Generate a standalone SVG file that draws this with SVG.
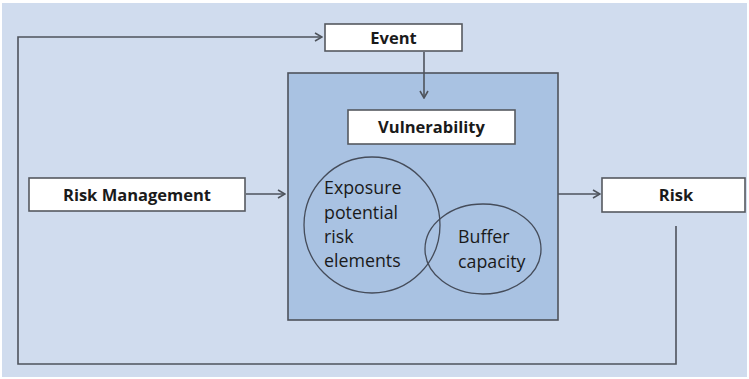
<svg xmlns="http://www.w3.org/2000/svg" width="749" height="379" viewBox="0 0 749 379">
<defs>
<style>
.box{fill:#ffffff;stroke:#55595f;stroke-width:1.6}
.lbl{font-family:"Open Sans","Noto Sans",sans-serif;font-weight:bold;font-size:16.5px;fill:#1a1a1a;text-anchor:middle}
.txt{font-family:"Open Sans","Noto Sans",sans-serif;font-size:17.8px;fill:#1a1a1a}
.ln{fill:none;stroke:#4e535c;stroke-width:1.6}
.shape{fill:none;stroke:#454c5a;stroke-width:1.3}
</style>
<marker id="arr" viewBox="0 0 10 10" refX="9" refY="5" markerWidth="10" markerHeight="10" markerUnits="userSpaceOnUse" orient="auto">
<path d="M2,1 L9,5 L2,9" fill="none" stroke="#4e535c" stroke-width="1.6"/>
</marker>
</defs>
<rect x="0" y="0" width="749" height="379" fill="#ffffff"/>
<rect x="2" y="3" width="745" height="374" fill="#d0dcee"/>
<g id="vulnerability-container">
<rect x="288" y="73" width="270" height="247" fill="#a9c2e2" stroke="#4e535c" stroke-width="1.6"/>
</g>
<g id="connectors">
<path class="ln" d="M424,52 V98" marker-end="url(#arr)"/>
<path class="ln" d="M246,194 H285" marker-end="url(#arr)"/>
<path class="ln" d="M558,194 H600" marker-end="url(#arr)"/>
<path class="ln" d="M676,226 V364 H18 V37 H322" marker-end="url(#arr)"/>
</g>
<g id="event">
<rect class="box" x="325" y="24" width="137" height="27"/>
<text class="lbl" x="393.5" y="43.5">Event</text>
</g>
<g id="vulnerability">
<rect class="box" x="348" y="110" width="167" height="34"/>
<text class="lbl" x="431.5" y="133">Vulnerability</text>
</g>
<g id="exposure">
<circle class="shape" cx="372" cy="225" r="68"/>
<text class="txt" x="324" y="194">Exposure</text>
<text class="txt" x="324" y="219">potential</text>
<text class="txt" x="324" y="243">risk</text>
<text class="txt" x="324" y="267">elements</text>
</g>
<g id="buffer">
<ellipse class="shape" cx="483" cy="249" rx="58" ry="45"/>
<text class="txt" x="458" y="243">Buffer</text>
<text class="txt" x="458" y="268">capacity</text>
</g>
<g id="risk-management">
<rect class="box" x="29" y="178" width="216" height="33"/>
<text class="lbl" x="137" y="200.5">Risk Management</text>
</g>
<g id="risk">
<rect class="box" x="602" y="178" width="143" height="34"/>
<text class="lbl" x="676" y="201">Risk</text>
</g>
</svg>
